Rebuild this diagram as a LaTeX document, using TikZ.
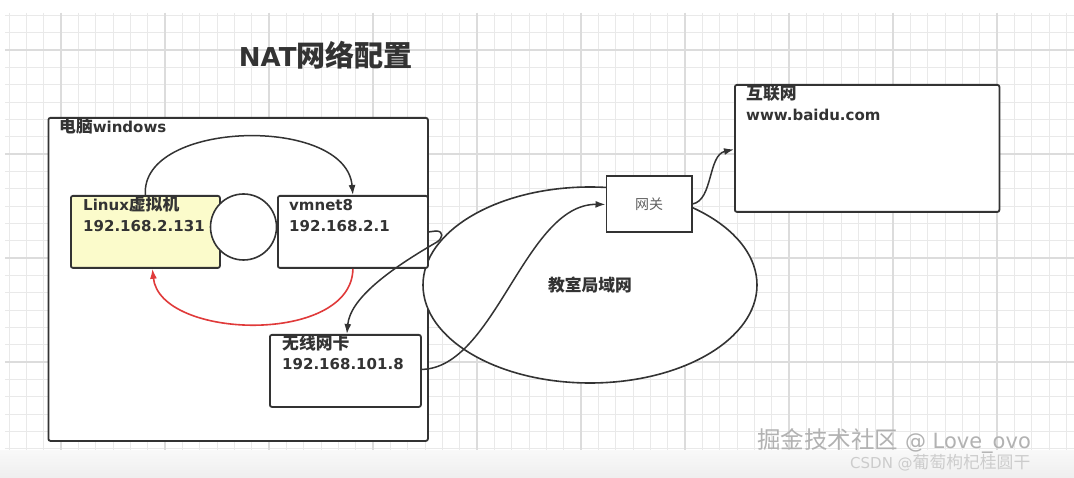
\documentclass[tikz,border=0pt]{standalone}
\usepackage{fontspec}
\setmainfont{DejaVu Sans}
\newfontfamily\cjk{Noto Sans CJK SC}[Scale=1.12]
\usetikzlibrary{arrows.meta,shapes.geometric}
\definecolor{ink}{HTML}{333333}
\definecolor{redarc}{HTML}{E03A3A}
\definecolor{vmyellow}{HTML}{FBFBCB}
\definecolor{gridminor}{HTML}{E9E9E9}
\definecolor{gridmajor}{HTML}{DCDCDC}
\begin{document}
\begin{tikzpicture}[x=1pt,y=-1pt,
  box/.style={draw=ink, line width=1.8pt, rounded corners=2pt, fill=white, anchor=north west, inner sep=0pt},
  lbl/.style={anchor=west, inner sep=0pt, text=ink, font=\fontsize{15}{18}\selectfont\bfseries, text height=11pt, text depth=3pt},
  conn/.style={draw=ink, line width=1.5pt, -{Latex[length=10pt,width=7pt]}},
  redconn/.style={draw=redarc, line width=1.6pt, -{Latex[length=10pt,width=7pt]}}]
\useasboundingbox (0,0) rectangle (1074,478);
\fill[white] (0,0) rectangle (1074,478);
% grid
\foreach \k in {-3,...,58} {\pgfmathsetmacro\xx{61+\k*17.3333}\draw[gridminor, line width=0.9pt] (\xx,13) -- (\xx,452);}
\foreach \k in {-2,...,23} {\pgfmathsetmacro\yy{50+\k*17.3333}\draw[gridminor, line width=0.9pt] (5,\yy) -- (1074,\yy);}
\foreach \k in {0,...,9} {\pgfmathsetmacro\xx{61+\k*104}\draw[gridmajor, line width=1.1pt] (\xx,13) -- (\xx,452);}
\foreach \k in {0,...,3} {\pgfmathsetmacro\yy{50+\k*104}\draw[gridmajor, line width=1.1pt] (5,\yy) -- (1074,\yy);}
\fill[top color=gray!5, bottom color=gray!13] (0,450) rectangle (1074,478);
% title
\node[inner sep=0pt, text=ink, font=\fontsize{26}{30}\selectfont\bfseries] (title) at (326,55) {NAT{\cjk 网络配置}};
% windows box
\node[box, minimum width=379.5pt, minimum height=323pt] (win) at (47.5,117) {};
\node[lbl] (winlbl) at (59,129) {{\cjk 电脑}windows};
% LAN ellipse
\node[ellipse, draw=ink, line width=1.6pt, fill=white, minimum width=334pt, minimum height=196pt, inner sep=0pt, text=ink, font=\fontsize{15}{18}\selectfont\bfseries] (lan) at (590,285) {{\cjk 教室局域网}};
% inner boxes
\node[box, fill=vmyellow, minimum width=149pt, minimum height=72pt] (lin) at (70,195) {};
\node[lbl] (linA) at (83,207) {Linux{\cjk 虚拟机}};
\node[lbl] (linB) at (83,228) {192.168.2.131};
\node[box, minimum width=150pt, minimum height=72pt] (vm) at (277,195) {};
\node[lbl] (vmA) at (289,207) {vmnet8};
\node[lbl] (vmB) at (289,228) {192.168.2.1};
\node[circle, draw=ink, line width=1.6pt, fill=white, minimum size=66pt, inner sep=0pt] (nic) at (243.5,227) {};
\node[box, minimum width=151pt, minimum height=72pt] (wl) at (269,334) {};
\node[lbl] (wlA) at (282,345) {{\cjk 无线网卡}};
\node[lbl] (wlB) at (282,366) {192.168.101.8};
% gateway and internet
\node[box, rounded corners=0pt, minimum width=85.5pt, minimum height=56pt, text=gray!75!black, font=\fontsize{12.5}{15}\selectfont] (gw) at (605.5,175) {{\cjk 网关}};
\node[box, minimum width=264.5pt, minimum height=127pt] (net) at (734,84) {};
\node[lbl] (netA) at (746,96) {{\cjk 互联网}};
\node[lbl] (netB) at (746,117) {www.baidu.com};
% connectors
\draw[conn] (lin.north) .. controls (140,120) and (346,115) .. (vm.north);
\draw[redconn] (vm.south) .. controls (352,345) and (160,340) .. ([xshift=7pt]lin.south);
\draw[conn] (vm.east) -- (436,231) .. controls (444,231) and (443,238) .. (437,242) .. controls (385,272) and (350,300) .. ([xshift=1.5pt]wl.north);
\draw[conn] ([yshift=1.5pt]wl.east) .. controls (495,368) and (525,204) .. ([yshift=-0.5pt]gw.west);
\draw[conn] (gw.east) .. controls (713,200) and (708,155) .. ([yshift=-1pt]net.west);
% watermarks
\node[anchor=west, inner sep=0pt, text=gray!60, font=\fontsize{21}{24}\selectfont] (wm1) at (757,441) {{\cjk 掘金技术社区} @ Love\_ovo};
\node[anchor=west, inner sep=0pt, text=gray!40, font=\fontsize{15}{18}\selectfont] (wm2) at (850,463) {CSDN @{\cjk 葡萄枸杞桂圆干}};
\end{tikzpicture}
\end{document}
